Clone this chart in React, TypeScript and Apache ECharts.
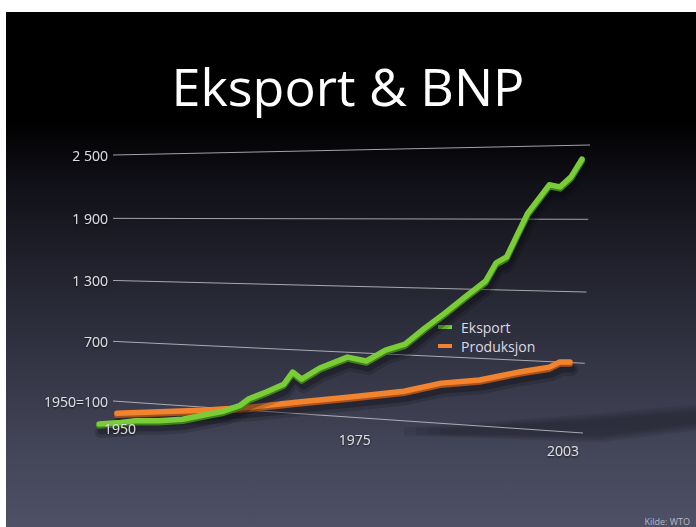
import React, { useEffect, useRef } from "react";
import * as echarts from "echarts";

// ---------- data (1950 = 100) ----------
const exportYears = [1950, 1953, 1955, 1958, 1961, 1963, 1966, 1968, 1969, 1971, 1973, 1974, 1975, 1977, 1980, 1982, 1984, 1986, 1988, 1990, 1992, 1994, 1995, 1996, 1997, 1998, 2000, 2001, 2002, 2003];
const exportValues = [100, 130, 155, 170, 198, 238, 296, 359, 422, 492, 569, 681, 623, 727, 832, 805, 905, 960, 1100, 1229, 1365, 1497, 1643, 1691, 1866, 2037, 2254, 2237, 2312, 2446];
const prodYears = [1950, 1962, 1968, 1974, 1980, 1986, 1990, 1994, 1998, 2001, 2002, 2003];
const prodValues = [100, 185, 242, 318, 390, 469, 557, 600, 685, 737, 783, 787];

const yTicks = [100, 700, 1300, 1900, 2500];
const yTickLabels = ["1950=100", "700", "1 300", "1 900", "2 500"];
const xTicks = [1950, 1975, 2003];
const xTickLabels = ["1950", "1975", "2003"];
const seriesNames = ["Eksport", "Produksjon"];
const titleText = "Eksport & BNP";
const sourceText = "Kilde: WTO";

const YEAR_MIN = 1950;
const YEAR_MAX = 2003;
const VAL_MIN = 100;
const VAL_MAX = 2500;

const FONT = "'Open Sans', 'Noto Sans', sans-serif";
const GREEN = "#7acd37";
const GREEN_DARK = "#3f7f1c";
const ORANGE = "#f3842f";
const ORANGE_DARK = "#a9501b";
const LABEL = "#dcdce0";

// ---------- perspective helpers (layout only) ----------
const fx = (t: number) => t - 0.21 * t * (1 - t);
const gv = (v: number) => v - 0.04 * v * (1 - v);
const yBase = (x: number) => 401 + 0.06809 * (x - 113);
const ySpan = (x: number) => 246 + 0.08905 * (x - 113);

type Plane = { x0: number; x1: number; dy: number; k: number };
const GREEN_PLANE: Plane = { x0: 99, x1: 582, dy: 24, k: 1.06 };
const ORANGE_PLANE: Plane = { x0: 117, x1: 570, dy: 12, k: 1.03 };

function project(plane: Plane, t: number, v: number) {
  const x = plane.x0 + fx(t) * (plane.x1 - plane.x0);
  const y = yBase(x) + plane.dy - gv(v) * plane.k * ySpan(x);
  return [x, y];
}

function normalize(api: any, year: number, value: number) {
  const p0 = api.coord([YEAR_MIN, VAL_MIN]);
  const p1 = api.coord([YEAR_MAX, VAL_MAX]);
  const c = api.coord([year, value]);
  return [(c[0] - p0[0]) / (p1[0] - p0[0]), (c[1] - p0[1]) / (p1[1] - p0[1])];
}

function lineRenderer(years: number[], values: number[], plane: Plane, main: string, dark: string) {
  return (params: any, api: any) => {
    if (params.dataIndex !== 0) return null;
    const pts = years.map((yr, i) => {
      const [t, v] = normalize(api, yr, values[i]);
      return project(plane, t, v);
    });
    const base = { fill: "none", lineJoin: "round", lineCap: "round" };
    return {
      type: "group",
      children: [
        {
          type: "polyline",
          shape: { points: pts.map((p) => [p[0] + 2, p[1] + 8]) },
          style: { ...base, stroke: "rgba(10,10,18,0.18)", lineWidth: 12 },
        },
        {
          type: "polyline",
          shape: { points: pts.map((p) => [p[0] + 2, p[1] + 7]) },
          style: { ...base, stroke: "rgba(10,10,18,0.3)", lineWidth: 7 },
        },
        {
          type: "polyline",
          shape: { points: pts.map((p) => [p[0], p[1] + 1.8]) },
          style: { ...base, stroke: dark, lineWidth: 6 },
        },
        {
          type: "polyline",
          shape: { points: pts },
          style: { ...base, stroke: main, lineWidth: 5.5 },
        },
      ],
    };
  };
}

const textShadow = {
  textShadowColor: "rgba(0,0,0,0.7)",
  textShadowBlur: 2,
  textShadowOffsetY: 1,
};

// soft floor shadow made of stacked translucent bands
const shadowBands = [0, 1, 2, 3].map((i) => ({
  type: "polygon",
  z: -50,
  shape: {
    points: [
      [440 - i * 12, 429 - i * 0.5],
      [580, 421 - i * 2],
      [696, 412 - i * 2.5],
      [696, 423 + i * 2.5],
      [600, 436 + i * 2],
      [440 - i * 12, 434 + i * 0.5],
    ],
  },
  style: { fill: "rgba(30,31,44,0.16)" },
}));

export default function App() {
  const ref = useRef<HTMLDivElement>(null);

  useEffect(() => {
    if (!ref.current) return;
    const chart = echarts.init(ref.current, undefined, { renderer: "svg" });

    const option: any = {
      animation: false,
      backgroundColor: "#ffffff",
      grid: { left: 100, right: 100, top: 150, bottom: 100 },
      xAxis: { type: "value", min: YEAR_MIN, max: YEAR_MAX, show: false },
      yAxis: { type: "value", min: VAL_MIN, max: VAL_MAX, show: false },
      legend: {
        data: [
          { name: seriesNames[0], icon: "rect", itemStyle: { color: GREEN } },
          { name: seriesNames[1], icon: "rect", itemStyle: { color: ORANGE } },
        ],
        orient: "vertical",
        left: 438,
        top: 320,
        padding: 0,
        itemWidth: 14,
        itemHeight: 4,
        itemGap: 5,
        selectedMode: false,
        textStyle: { color: LABEL, fontSize: 14, fontFamily: FONT, padding: [0, 0, 0, 4] },
      },
      graphic: [
        {
          type: "rect",
          z: -100,
          shape: { x: 6, y: 12, width: 690, height: 515 },
          style: {
            fill: new echarts.graphic.LinearGradient(0, 0, 0, 1, [
              { offset: 0, color: "#000000" },
              { offset: 0.21, color: "#000000" },
              { offset: 0.33, color: "#101017" },
              { offset: 0.6, color: "#2c2d3b" },
              { offset: 0.85, color: "#434558" },
              { offset: 1, color: "#4e5066" },
            ]),
          },
        },
        ...shadowBands,
        {
          type: "text",
          x: 348,
          y: 85,
          style: {
            text: titleText,
            fill: "#ffffff",
            fontSize: 52,
            fontFamily: FONT,
            align: "center",
            verticalAlign: "middle",
            textAlign: "center",
            textVerticalAlign: "middle",
          },
        },
        {
          type: "text",
          x: 690,
          y: 521,
          style: {
            text: sourceText,
            fill: "#b8b9c4",
            fontSize: 9,
            fontFamily: FONT,
            align: "right",
            verticalAlign: "middle",
            textAlign: "right",
            textVerticalAlign: "middle",
          },
        },
      ],
      series: [
        {
          name: "grid",
          type: "custom",
          silent: true,
          data: yTicks.map((v) => [YEAR_MIN, v]),
          renderItem: (params: any, api: any) => {
            const val = yTicks[params.dataIndex];
            const [, v] = normalize(api, YEAR_MIN, val);
            const xl = 113;
            const xr = 583 + 7 * v;
            const yl = yBase(xl) - gv(v) * ySpan(xl);
            const yr = yBase(xr) - gv(v) * ySpan(xr);
            return {
              type: "group",
              children: [
                {
                  type: "line",
                  shape: { x1: xl, y1: yl, x2: xr, y2: yr },
                  style: { stroke: "rgba(200,200,206,0.8)", lineWidth: 1 },
                },
                {
                  type: "text",
                  x: 108,
                  y: yl,
                  style: {
                    text: yTickLabels[params.dataIndex],
                    fill: LABEL,
                    fontSize: 14,
                    fontFamily: FONT,
                    align: "right",
                    verticalAlign: "middle",
                    textAlign: "right",
                    textVerticalAlign: "middle",
                    ...textShadow,
                  },
                },
              ],
            };
          },
        },
        {
          name: "xlabels",
          type: "custom",
          silent: true,
          z: 5,
          data: xTicks.map((y) => [y, VAL_MIN]),
          renderItem: (params: any, api: any) => {
            const yr = xTicks[params.dataIndex];
            const [t] = normalize(api, yr, VAL_MIN);
            const h = t + 0.234 * t * (1 - t);
            return {
              type: "text",
              x: 120 + 443 * h,
              y: 428 + 22 * h,
              style: {
                text: xTickLabels[params.dataIndex],
                fill: LABEL,
                fontSize: 14,
                fontFamily: FONT,
                align: "center",
                verticalAlign: "middle",
                textAlign: "center",
                textVerticalAlign: "middle",
                ...textShadow,
              },
            };
          },
        },
        {
          name: seriesNames[1],
          type: "custom",
          z: 3,
          itemStyle: { color: ORANGE },
          data: prodYears.map((y, i) => [y, prodValues[i]]),
          renderItem: lineRenderer(prodYears, prodValues, ORANGE_PLANE, ORANGE, ORANGE_DARK),
        },
        {
          name: seriesNames[0],
          type: "custom",
          z: 4,
          itemStyle: { color: GREEN },
          data: exportYears.map((y, i) => [y, exportValues[i]]),
          renderItem: lineRenderer(exportYears, exportValues, GREEN_PLANE, GREEN, GREEN_DARK),
        },
      ],
    };

    chart.setOption(option);
    return () => chart.dispose();
  }, []);

  return (
    <div
      ref={ref}
      style={{ position: "fixed", left: 0, top: 0, width: 696, height: 527 }}
    />
  );
}
